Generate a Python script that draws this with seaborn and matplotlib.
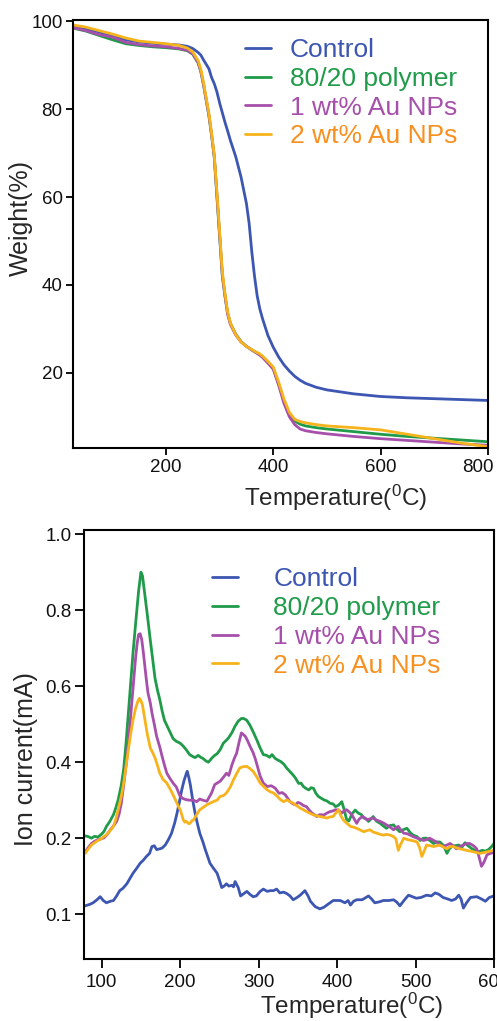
import numpy as np
import pandas as pd
import matplotlib
matplotlib.use("Agg")
import matplotlib.pyplot as plt
import matplotlib.transforms as mtransforms
import seaborn as sns

# ---------------- TGA: weight loss vs temperature ----------------
tga_temp = [25, 50, 75, 100, 125, 150, 175, 200, 225, 240, 250, 260, 265, 270, 275,
            280, 285, 290, 295, 300, 305, 310, 315, 320, 330, 340, 350, 355, 360, 365,
            370, 375, 380, 390, 400, 410, 420, 430, 440, 450, 460, 480, 500, 550, 600,
            650, 700, 750, 800]
tga_control = [98.9, 98.3, 97.6, 96.6, 95.8, 95.3, 95.0, 94.8, 94.6, 94.3, 93.8, 92.9, 92.3, 91.2, 90.2,
               89.2, 87.2, 85.8, 83.9, 81.4, 79.2, 77.0, 75.0, 72.9, 69.2, 64.5, 58.5, 54.0, 47.5, 42.0,
               37.5, 34.5, 32.3, 28.5, 25.8, 23.6, 21.8, 20.4, 19.2, 18.3, 17.6, 16.7, 16.1, 15.2, 14.6,
               14.3, 14.1, 13.9, 13.7]
tga_polymer = [98.5, 97.8, 96.8, 95.8, 94.9, 94.5, 94.2, 94.0, 93.7, 93.3, 92.5, 90.5, 88.5, 85.5, 82.0,
               78.5, 74.0, 69.0, 60.0, 51.0, 42.0, 37.5, 33.5, 31.3, 28.8, 27.1, 26.0, 25.6, 25.2, 24.8,
               24.5, 24.1, 23.6, 22.3, 21.0, 17.5, 13.5, 10.5, 9.0, 8.3, 7.9, 7.5, 7.2, 6.6, 6.0,
               5.5, 5.1, 4.7, 4.3]
tga_au1 = [98.6, 97.9, 97.0, 96.4, 95.2, 94.7, 94.4, 94.2, 93.8, 93.4, 92.6, 90.6, 88.6, 85.6, 82.1,
           78.6, 74.2, 69.2, 60.3, 51.3, 42.3, 37.4, 33.3, 31.0, 28.6, 27.0, 26.0, 25.6, 25.2, 24.8,
           24.4, 24.0, 23.5, 22.2, 20.8, 17.2, 13.0, 10.0, 8.2, 7.2, 6.8, 6.4, 6.1, 5.5, 5.0,
           4.6, 4.2, 3.8, 3.5]
tga_au2 = [99.2, 98.7, 97.9, 97.1, 96.2, 95.5, 95.2, 94.9, 94.5, 93.9, 93.0, 91.0, 89.0, 86.0, 82.5,
           79.0, 74.5, 69.5, 61.0, 52.0, 43.0, 38.0, 33.8, 31.3, 28.7, 27.0, 26.0, 25.6, 25.3, 24.9,
           24.6, 24.3, 23.8, 22.6, 21.3, 17.9, 14.0, 11.0, 9.4, 8.9, 8.6, 8.2, 7.9, 7.5, 7.0,
           6.0, 5.0, 4.0, 3.2]

# ---------------- Evolved-gas ion current vs temperature ----------------
ms_temp_control = [79, 85, 89, 94, 98, 102, 106, 111, 115, 119, 123, 127, 132, 136, 140, 145, 149, 153,
                   157, 161, 164, 167, 170, 174, 177, 181, 185, 189, 193, 196, 199, 202, 205, 208, 209,
                   211, 213, 216, 219, 222, 225, 229, 232, 235, 238, 242, 247, 250, 253, 256, 259, 262,
                   266, 268, 270, 274, 277, 281, 285, 289, 293, 297, 302, 306, 311, 315, 319, 323, 327,
                   332, 336, 340, 344, 349, 353, 359, 363, 366, 372, 378, 383, 387, 395, 404, 410, 414,
                   417, 421, 425, 432, 440, 444, 448, 453, 459, 466, 472, 476, 480, 486, 491, 496, 501,
                   507, 514, 520, 525, 530, 535, 541, 546, 551, 555, 558, 561, 565, 570, 578, 584, 589,
                   594, 600]
ms_control = [0.111, 0.113, 0.115, 0.119, 0.123, 0.118, 0.115, 0.117, 0.118, 0.124, 0.131, 0.134, 0.140,
              0.147, 0.154, 0.161, 0.167, 0.171, 0.176, 0.180, 0.189, 0.190, 0.185, 0.186, 0.187, 0.191,
              0.198, 0.213, 0.240, 0.266, 0.295, 0.327, 0.352, 0.371, 0.376, 0.360, 0.340, 0.300, 0.266,
              0.238, 0.213, 0.195, 0.185, 0.176, 0.167, 0.161, 0.154, 0.145, 0.135, 0.137, 0.140, 0.137,
              0.138, 0.136, 0.143, 0.135, 0.124, 0.127, 0.130, 0.126, 0.123, 0.124, 0.130, 0.133, 0.130,
              0.131, 0.131, 0.133, 0.128, 0.129, 0.127, 0.124, 0.119, 0.122, 0.125, 0.131, 0.124, 0.117,
              0.110, 0.107, 0.109, 0.112, 0.118, 0.118, 0.115, 0.118, 0.112, 0.117, 0.119, 0.119, 0.124,
              0.120, 0.115, 0.116, 0.118, 0.118, 0.119, 0.116, 0.111, 0.119, 0.125, 0.123, 0.121, 0.122,
              0.125, 0.124, 0.128, 0.126, 0.122, 0.120, 0.118, 0.120, 0.125, 0.120, 0.108, 0.115, 0.122,
              0.123, 0.120, 0.117, 0.122, 0.124]

ms_temp_polymer = [79, 83, 87, 91, 95, 99, 103, 106, 110, 115, 118, 121, 125, 128, 131, 134, 137, 140,
                   143, 147, 150, 152, 155, 158, 162, 165, 168, 171, 174, 177, 180, 183, 187, 191, 195,
                   200, 204, 208, 212, 216, 219, 223, 226, 229, 233, 236, 240, 244, 247, 251, 255, 259,
                   262, 266, 270, 274, 278, 281, 285, 289, 293, 298, 302, 306, 310, 314, 317, 321, 325,
                   328, 332, 336, 340, 344, 347, 351, 354, 357, 361, 364, 367, 370, 373, 376, 380, 383,
                   387, 391, 395, 398, 402, 406, 409, 412, 415, 419, 423, 427, 431, 434, 438, 440, 443,
                   446, 450, 455, 459, 463, 467, 472, 476, 480, 484, 489, 493, 497, 502, 506, 510, 514,
                   518, 523, 527, 531, 536, 540, 543, 546, 550, 555, 559, 563, 567, 572, 576, 580, 585,
                   589, 593, 597, 600]
ms_polymer = [0.206, 0.204, 0.200, 0.205, 0.203, 0.209, 0.218, 0.231, 0.243, 0.262, 0.280, 0.301, 0.340,
              0.382, 0.450, 0.530, 0.610, 0.690, 0.760, 0.850, 0.900, 0.890, 0.840, 0.790, 0.720, 0.670,
              0.620, 0.590, 0.565, 0.535, 0.510, 0.497, 0.480, 0.462, 0.455, 0.450, 0.442, 0.432, 0.420,
              0.415, 0.412, 0.418, 0.413, 0.410, 0.403, 0.400, 0.410, 0.418, 0.422, 0.433, 0.450, 0.458,
              0.465, 0.478, 0.495, 0.508, 0.515, 0.515, 0.510, 0.497, 0.480, 0.457, 0.437, 0.420, 0.418,
              0.413, 0.420, 0.410, 0.405, 0.402, 0.395, 0.384, 0.375, 0.366, 0.358, 0.344, 0.345, 0.336,
              0.330, 0.327, 0.333, 0.331, 0.318, 0.310, 0.305, 0.301, 0.298, 0.292, 0.290, 0.283, 0.287,
              0.296, 0.275, 0.250, 0.245, 0.264, 0.274, 0.266, 0.262, 0.253, 0.250, 0.244, 0.250, 0.257,
              0.245, 0.239, 0.232, 0.226, 0.233, 0.235, 0.224, 0.217, 0.222, 0.226, 0.215, 0.208, 0.204,
              0.197, 0.200, 0.200, 0.197, 0.193, 0.195, 0.195, 0.190, 0.180, 0.186, 0.189, 0.190, 0.191,
              0.188, 0.194, 0.190, 0.186, 0.184, 0.182, 0.184, 0.183, 0.185, 0.189, 0.193]

ms_temp_au1 = [79, 83, 87, 91, 95, 99, 103, 107, 111, 115, 119, 122, 125, 128, 132, 135, 138, 141, 143,
               145, 147, 149, 151, 153, 155, 157, 159, 162, 164, 167, 170, 174, 177, 180, 183, 187, 191,
               195, 200, 204, 208, 212, 217, 221, 225, 229, 234, 237, 240, 244, 247, 251, 255, 259, 262,
               266, 269, 272, 275, 278, 281, 283, 286, 289, 293, 296, 299, 302, 306, 311, 316, 321, 326,
               330, 334, 337, 340, 344, 347, 350, 353, 357, 361, 364, 368, 371, 374, 378, 383, 387, 391,
               395, 398, 402, 406, 409, 412, 416, 419, 422, 425, 428, 432, 435, 438, 442, 446, 450, 455,
               459, 463, 467, 472, 475, 478, 481, 485, 489, 493, 497, 502, 506, 510, 514, 518, 523, 527,
               531, 535, 540, 544, 548, 552, 556, 561, 565, 569, 574, 578, 581, 584, 587, 591, 595, 600]
ms_au1 = [0.182, 0.188, 0.193, 0.196, 0.198, 0.199, 0.201, 0.210, 0.222, 0.232, 0.244, 0.262, 0.292,
          0.340, 0.407, 0.475, 0.547, 0.620, 0.670, 0.710, 0.736, 0.738, 0.723, 0.690, 0.652, 0.615,
          0.582, 0.555, 0.530, 0.500, 0.468, 0.440, 0.415, 0.392, 0.371, 0.357, 0.345, 0.335, 0.310,
          0.304, 0.301, 0.300, 0.300, 0.296, 0.303, 0.300, 0.297, 0.308, 0.319, 0.341, 0.345, 0.350,
          0.360, 0.371, 0.365, 0.393, 0.410, 0.424, 0.452, 0.477, 0.472, 0.468, 0.456, 0.442, 0.425,
          0.407, 0.385, 0.363, 0.345, 0.336, 0.338, 0.332, 0.318, 0.320, 0.314, 0.305, 0.296, 0.290,
          0.288, 0.294, 0.292, 0.286, 0.283, 0.275, 0.266, 0.262, 0.257, 0.262, 0.261, 0.266, 0.270,
          0.272, 0.275, 0.274, 0.266, 0.272, 0.275, 0.268, 0.261, 0.250, 0.239, 0.250, 0.257, 0.254,
          0.248, 0.251, 0.253, 0.248, 0.244, 0.240, 0.235, 0.230, 0.222, 0.228, 0.231, 0.222, 0.213,
          0.212, 0.208, 0.204, 0.200, 0.199, 0.197, 0.198, 0.200, 0.197, 0.195, 0.191, 0.189, 0.191,
          0.193, 0.190, 0.186, 0.189, 0.191, 0.193, 0.193, 0.190, 0.186, 0.175, 0.163, 0.168, 0.178,
          0.180, 0.181]

ms_temp_au2 = [79, 83, 87, 91, 95, 99, 102, 106, 110, 115, 118, 121, 125, 128, 131, 134, 137, 140, 143,
               146, 148, 150, 152, 155, 158, 162, 165, 168, 171, 174, 178, 183, 187, 191, 195, 198, 200,
               202, 204, 206, 208, 211, 213, 215, 217, 221, 225, 230, 234, 238, 243, 247, 251, 255, 259,
               264, 268, 272, 276, 280, 285, 289, 293, 298, 302, 307, 311, 315, 319, 324, 328, 332, 336,
               340, 344, 349, 353, 357, 361, 366, 370, 374, 378, 383, 387, 391, 395, 399, 402, 405, 408,
               412, 417, 421, 425, 429, 434, 438, 442, 446, 451, 455, 459, 463, 468, 472, 475, 478, 481,
               485, 490, 495, 499, 502, 505, 508, 511, 514, 519, 523, 527, 531, 536, 540, 544, 548, 553,
               557, 561, 565, 570, 574, 578, 582, 587, 591, 595, 600]
ms_au2 = [0.180, 0.186, 0.191, 0.194, 0.197, 0.199, 0.203, 0.209, 0.218, 0.231, 0.250, 0.275, 0.310,
          0.345, 0.390, 0.433, 0.475, 0.512, 0.540, 0.560, 0.568, 0.562, 0.550, 0.512, 0.475, 0.437,
          0.425, 0.411, 0.392, 0.371, 0.355, 0.345, 0.330, 0.314, 0.296, 0.283, 0.275, 0.262, 0.248,
          0.242, 0.244, 0.238, 0.240, 0.246, 0.248, 0.262, 0.275, 0.282, 0.288, 0.292, 0.297, 0.300,
          0.310, 0.312, 0.319, 0.335, 0.354, 0.370, 0.385, 0.388, 0.389, 0.383, 0.376, 0.360, 0.345,
          0.335, 0.327, 0.322, 0.319, 0.310, 0.301, 0.296, 0.301, 0.296, 0.292, 0.285, 0.279, 0.275,
          0.270, 0.265, 0.261, 0.259, 0.257, 0.255, 0.253, 0.256, 0.257, 0.268, 0.275, 0.258, 0.248,
          0.240, 0.231, 0.229, 0.226, 0.222, 0.217, 0.220, 0.222, 0.216, 0.213, 0.210, 0.208, 0.210,
          0.208, 0.204, 0.199, 0.184, 0.192, 0.200, 0.198, 0.197, 0.196, 0.195, 0.188, 0.176, 0.183,
          0.191, 0.190, 0.189, 0.190, 0.191, 0.188, 0.186, 0.189, 0.189, 0.187, 0.186, 0.185, 0.184,
          0.183, 0.182, 0.181, 0.180, 0.181, 0.182, 0.183, 0.184]

series_names = ["Control", "80/20 polymer", "1 wt% Au NPs", "2 wt% Au NPs"]
line_colors = ["#3c56b2", "#1f9b4a", "#a64fab", "#f7b31c"]
text_colors = ["#3c56b2", "#1f9b4a", "#a64fab", "#f7901e"]

sns.set_style("ticks")
plt.rcParams["font.family"] = ["Liberation Sans", "DejaVu Sans"]
plt.rcParams["mathtext.fontset"] = "custom"
plt.rcParams["mathtext.rm"] = "Liberation Sans"
plt.rcParams["mathtext.default"] = "regular"

tga_df = pd.concat([
    pd.DataFrame({"temp": tga_temp, "value": vals, "sample": name})
    for name, vals in zip(series_names, [tga_control, tga_polymer, tga_au1, tga_au2])
], ignore_index=True)

ms_df = pd.concat([
    pd.DataFrame({"temp": t, "value": v, "sample": name})
    for name, t, v in zip(series_names,
                          [ms_temp_control, ms_temp_polymer, ms_temp_au1, ms_temp_au2],
                          [ms_control, ms_polymer, ms_au1, ms_au2])
], ignore_index=True)

palette = dict(zip(series_names, line_colors))

fig = plt.figure(figsize=(4.97, 10.21), dpi=100)
ax_top = fig.add_axes([0.1463, 0.5609, 0.8362, 0.4195])
ax_bot = fig.add_axes([0.1696, 0.0607, 0.8244, 0.4202])

# ---- upper panel: TGA ----
sns.lineplot(data=tga_df, x="temp", y="value", hue="sample", hue_order=series_names,
             palette=palette, estimator=None, sort=False, linewidth=2.0, legend=False, ax=ax_top)
ax_top.set_xlim(26, 801)
ax_top.set_ylim(2.8, 100.3)
ax_top.set_xticks([200, 400, 600, 800])
ax_top.set_yticks([20, 40, 60, 80, 100])
ax_top.tick_params(axis="both", direction="out", length=4.8, width=1.4,
                   labelsize=13.5, colors="#111111")
ax_top.tick_params(axis="x", pad=2.7)
ax_top.tick_params(axis="y", pad=2.5)
ax_top.set_xlabel("Temperature($^{0}$C)", fontsize=17.5)
ax_top.set_ylabel("Weight(%)", fontsize=18)
ax_top.xaxis.set_label_coords(0.633, -0.080)
ax_top.yaxis.set_label_coords(-0.095, 0.538)

# ---- lower panel: ion current ----
def _fwd(v):
    v = np.asarray(v, dtype=float)
    return np.where(v >= 0.2, v, 2.0 * v - 0.2)


def _inv(d):
    d = np.asarray(d, dtype=float)
    return np.where(d >= 0.2, d, (d + 0.2) / 2.0)


ax_bot.set_yscale("function", functions=(_fwd, _inv))
sns.lineplot(data=ms_df, x="temp", y="value", hue="sample", hue_order=series_names,
             palette=palette, estimator=None, sort=False, linewidth=2.0, legend=False, ax=ax_bot)
ax_bot.set_xlim(77.8, 600)
ax_bot.set_ylim(0.041, 1.011)
ax_bot.set_xticks([100, 200, 300, 400, 500, 600])
ax_bot.set_yticks([0.1, 0.2, 0.4, 0.6, 0.8, 1.0])
ax_bot.yaxis.set_major_formatter(matplotlib.ticker.FormatStrFormatter("%.1f"))
ax_bot.yaxis.set_minor_locator(matplotlib.ticker.NullLocator())
ax_bot.tick_params(axis="both", direction="out", length=6.7, width=1.4,
                   labelsize=13.5, colors="#111111")
ax_bot.tick_params(axis="x", pad=4.0)
ax_bot.tick_params(axis="y", pad=2.4)
ax_bot.set_xlabel("Temperature($^{0}$C)", fontsize=17.5)
ax_bot.set_ylabel("Ion current(mA)", fontsize=18)
ax_bot.xaxis.set_label_coords(0.652, -0.073)
ax_bot.yaxis.set_label_coords(-0.112, 0.466)

for ax in (ax_top, ax_bot):
    for side in ("top", "right", "bottom", "left"):
        ax.spines[side].set_visible(True)
        ax.spines[side].set_linewidth(1.5)
        ax.spines[side].set_color("black")
    ax.set_facecolor("white")

# nudge the last upper-panel tick label so it stays inside the figure
fig.canvas.draw()
last_lbl = ax_top.xaxis.get_major_ticks()[-1].label1
last_lbl.set_transform(last_lbl.get_transform()
                       + mtransforms.ScaledTranslation(-7 / 72, 0, fig.dpi_scale_trans))

# ---- legends with coloured labels ----
def add_legend(ax, anchor, textpad):
    handles = ax.get_lines()[:len(series_names)]
    leg = ax.legend(handles, series_names, loc="upper left", bbox_to_anchor=anchor,
                    frameon=False, fontsize=19, borderpad=0, borderaxespad=0,
                    handlelength=1.0, handletextpad=textpad, labelspacing=0.18)
    for txt, col in zip(leg.get_texts(), text_colors):
        txt.set_color(col)
    for ln in leg.get_lines():
        ln.set_linewidth(2.0)
    return leg


add_legend(ax_top, (0.4146, 0.958), 0.7)
add_legend(ax_bot, (0.311, 0.913), 1.33)

fig.savefig("out.png", dpi=100, facecolor="white")
